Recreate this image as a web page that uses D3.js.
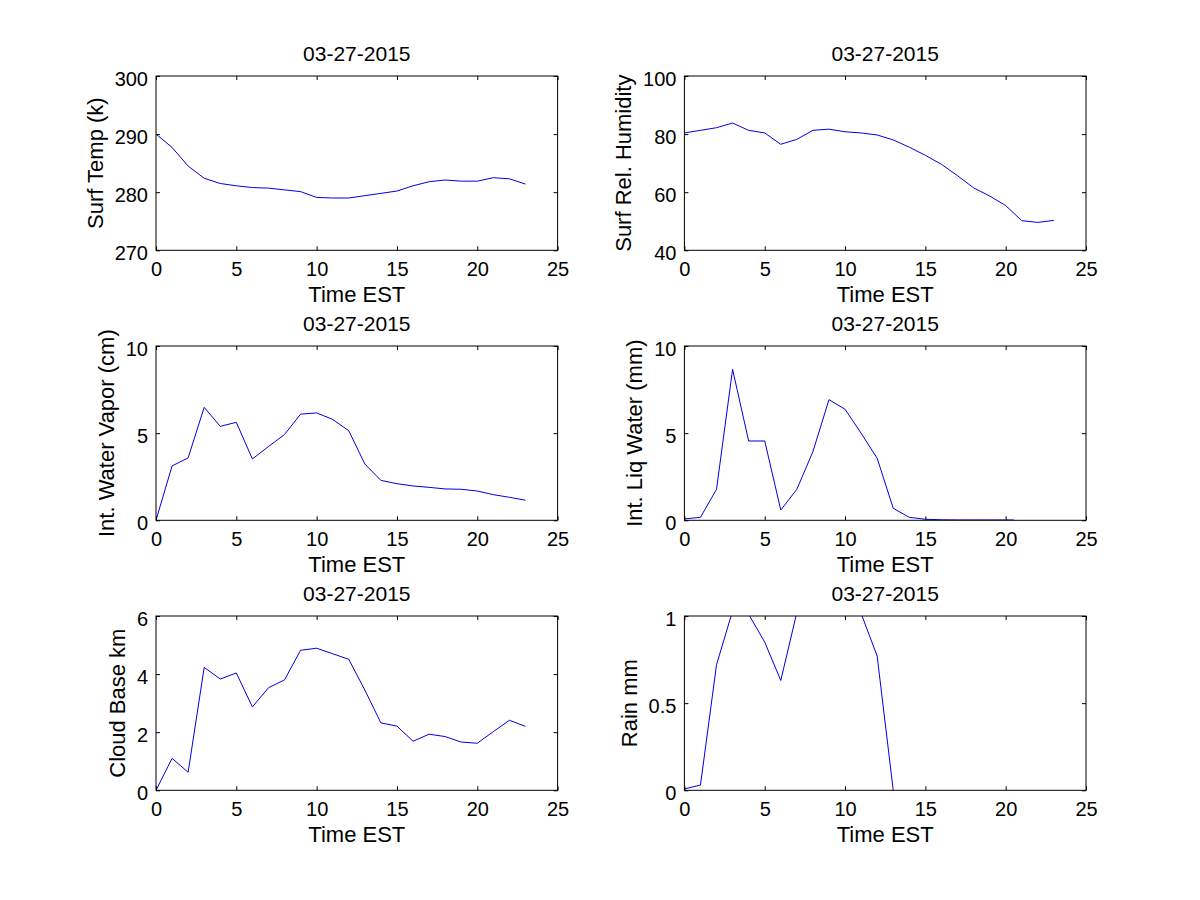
<!DOCTYPE html>
<html>
<head>
<meta charset="utf-8">
<script src="https://cdn.jsdelivr.net/npm/d3@7"></script>
<style>
  body { margin: 0; background: #fff; }
  text { font-family: "Liberation Sans", Arial, sans-serif; fill: #000; }
</style>
</head>
<body>
<div id="chart"></div>
<script>
// Data (hourly, 03-27-2015)
const hours = d3.range(0, 24);
const surfTemp = [290.0, 287.7, 284.5, 282.4, 281.5, 281.1, 280.8, 280.7, 280.4, 280.1, 279.1, 279.0,
                  279.0, 279.4, 279.8, 280.2, 281.1, 281.8, 282.1, 281.9, 281.9, 282.5, 282.3, 281.4];
const surfRH = [80.4, 81.3, 82.2, 83.8, 81.3, 80.4, 76.5, 78.2, 81.3, 81.7, 80.8, 80.4,
                79.7, 78.0, 75.5, 72.7, 69.6, 65.7, 61.5, 58.7, 55.4, 50.2, 49.6, 50.3];
const waterVapor = [0.0, 3.12, 3.58, 6.48, 5.39, 5.62, 3.52, 4.23, 4.92, 6.09, 6.16, 5.79,
                    5.14, 3.23, 2.29, 2.10, 1.97, 1.89, 1.80, 1.78, 1.68, 1.47, 1.32, 1.15];
const liqTime = [0, 1, 2, 3, 4, 5, 6, 7, 8, 9, 10, 11, 12, 13, 14, 15, 16, 17, 18, 19, 20, 20.5];
const liqWater = [0.08, 0.17, 1.78, 8.66, 4.55, 4.55, 0.59, 1.78, 3.94, 6.92, 6.37, 5.0,
                  3.56, 0.69, 0.17, 0.06, 0.03, 0.02, 0.02, 0.02, 0.02, 0.02];
const cloudBase = [0.0, 1.10, 0.62, 4.23, 3.83, 4.04, 2.87, 3.53, 3.80, 4.82, 4.89, 4.70,
                   4.51, 3.45, 2.32, 2.21, 1.69, 1.93, 1.85, 1.66, 1.62, 2.02, 2.41, 2.20];
const rainTime = d3.range(0, 14);
const rain = [0.008, 0.03, 0.72, 1.03, 1.01, 0.85, 0.63, 1.02, 1.4, 1.8, 1.6, 1.015, 0.77, 0.0];

const xTicks = [0, 5, 10, 15, 20, 25];
const dateTitle = "03-27-2015";
const xLabel = "Time EST";

// Panel layout (MATLAB subplot 3x2)
const width = 1200, height = 900;
const colLeft = [156, 684.4];
const rowTop = [76, 346, 616];
const pw = 401.6, ph = 174.3;

const panels = [
  {t: hours, v: surfTemp, yDomain: [270, 300], yTicks: [270, 280, 290, 300], label: "Surf Temp (k)"},
  {t: hours, v: surfRH, yDomain: [40, 100], yTicks: [40, 60, 80, 100], label: "Surf Rel. Humidity"},
  {t: hours, v: waterVapor, yDomain: [0, 10], yTicks: [0, 5, 10], label: "Int. Water Vapor (cm)"},
  {t: liqTime, v: liqWater, yDomain: [0, 10], yTicks: [0, 5, 10], label: "Int. Liq Water (mm)"},
  {t: hours, v: cloudBase, yDomain: [0, 6], yTicks: [0, 2, 4, 6], label: "Cloud Base km"},
  {t: rainTime, v: rain, yDomain: [0, 1], yTicks: [0, 0.5, 1], label: "Rain mm"}
];

const svg = d3.select("#chart").append("svg")
    .attr("width", width)
    .attr("height", height);

panels.forEach((p, i) => {
    const left = colLeft[i % 2], top = rowTop[Math.floor(i / 2)];
    const g = svg.append("g").attr("transform", `translate(${left},${top})`);

    const x = d3.scaleLinear().domain([0, 25]).range([0, pw]);
    const y = d3.scaleLinear().domain(p.yDomain).range([ph, 0]);

    // clip so values above the y-limit are cut off like in MATLAB
    g.append("clipPath").attr("id", "clip" + i)
        .append("rect").attr("width", pw).attr("height", ph);

    const line = d3.line().x((d, j) => x(p.t[j])).y(d => y(d));
    g.append("path")
        .datum(p.v)
        .attr("clip-path", `url(#clip${i})`)
        .attr("fill", "none")
        .attr("stroke", "#0000e0")
        .attr("stroke-width", 1)
        .attr("d", line);

    // Axes with inward ticks on all four sides
    const fmt = d3.format("");
    g.append("g").attr("transform", `translate(0,${ph})`)
        .call(d3.axisBottom(x).tickValues(xTicks).tickSize(-4).tickPadding(12).tickFormat(fmt));
    g.append("g")
        .call(d3.axisTop(x).tickValues(xTicks).tickSize(-4).tickFormat(""));
    const leftAx = g.append("g")
        .call(d3.axisLeft(y).tickValues(p.yTicks).tickSize(-4).tickPadding(8).tickFormat(fmt));
    g.append("g").attr("transform", `translate(${pw},0)`)
        .call(d3.axisRight(y).tickValues(p.yTicks).tickSize(-4).tickFormat(""));

    g.selectAll(".domain").remove();
    g.selectAll(".tick line").attr("stroke", "#000");
    g.selectAll(".tick text")
        .attr("fill", "#000")
        .style("font-size", "20px")
        .style("font-family", '"Liberation Sans", Arial, sans-serif');
    leftAx.selectAll(".tick text").attr("dy", "0.45em");

    // Box
    g.append("rect")
        .attr("width", pw).attr("height", ph)
        .attr("fill", "none").attr("stroke", "#000").attr("stroke-width", 1);

    // Title
    g.append("text")
        .attr("x", pw / 2).attr("y", -15)
        .attr("text-anchor", "middle")
        .style("font-size", "21px")
        .text(dateTitle);

    // X label
    g.append("text")
        .attr("x", pw / 2).attr("y", ph + 51.5)
        .attr("text-anchor", "middle")
        .style("font-size", "22px")
        .text(xLabel);

    // Y label placed left of the widest tick label
    let maxW = 0;
    leftAx.selectAll(".tick text").each(function () {
        maxW = Math.max(maxW, this.getComputedTextLength());
    });
    const lx = -8 - maxW - 12;
    g.append("text")
        .attr("transform", `translate(${lx},${ph / 2}) rotate(-90)`)
        .attr("text-anchor", "middle")
        .style("font-size", "22px")
        .text(p.label);
});
</script>
</body>
</html>
